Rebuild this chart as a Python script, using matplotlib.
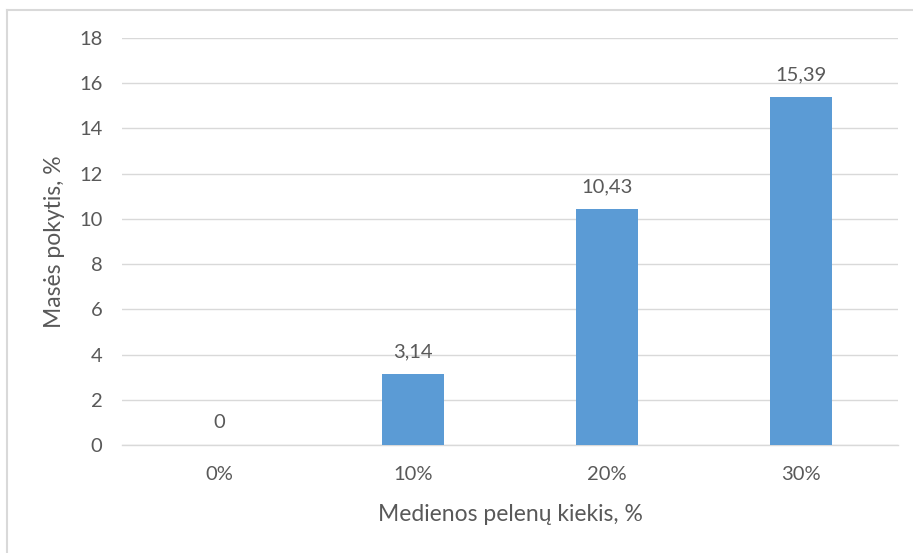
import matplotlib.pyplot as plt
from matplotlib.lines import Line2D

categories = ["0%", "10%", "20%", "30%"]
values = [0, 3.14, 10.43, 15.39]
value_labels = ["0", "3,14", "10,43", "15,39"]
y_ticks = [0, 2, 4, 6, 8, 10, 12, 14, 16, 18]

bar_color = "#5B9BD5"
text_color = "#595959"
grid_color = "#D9D9D9"

plt.rcParams["font.family"] = ["Lato", "DejaVu Sans"]

fig = plt.figure(figsize=(9.13, 5.53), dpi=100)
ax = fig.add_axes([0.1336, 0.1953, 0.85, 0.736])

x = range(len(categories))
bars = ax.bar(x, values, width=0.315, color=bar_color, zorder=3)

for xi, v, lab in zip(x, values, value_labels):
    ax.annotate(lab, (xi, v), xytext=(0, 10), textcoords="offset points",
                ha="center", va="bottom", fontsize=14.5, color=text_color)

ax.set_xlim(-0.5, len(categories) - 0.5)
ax.set_ylim(0, 18)
ax.set_yticks(y_ticks)
ax.set_yticklabels([str(t) for t in y_ticks])
ax.set_xticks(list(x))
ax.set_xticklabels(categories)
ax.tick_params(axis="both", length=0, labelsize=14.5, colors=text_color)
ax.tick_params(axis="y", pad=14)
ax.tick_params(axis="x", pad=15)

ax.yaxis.grid(True, color=grid_color, linewidth=1.0, zorder=0)
ax.set_axisbelow(True)
for side in ["top", "right", "left"]:
    ax.spines[side].set_visible(False)
ax.spines["bottom"].set_color(grid_color)
ax.spines["bottom"].set_linewidth(1.0)

ax.set_xlabel("Medienos pelenų kiekis, %", fontsize=16.5, color=text_color, labelpad=15)
ax.set_ylabel("Masės pokytis, %", fontsize=16.5, color=text_color, labelpad=10)

# Chart area frame
fig.add_artist(Line2D([0.0077, 0.0077], [0.0, 0.982], transform=fig.transFigure,
                      color=grid_color, linewidth=1.5))
fig.add_artist(Line2D([0.0077, 1.0], [0.982, 0.982], transform=fig.transFigure,
                      color=grid_color, linewidth=1.5))

fig.savefig("out.png", dpi=100, facecolor="white")
